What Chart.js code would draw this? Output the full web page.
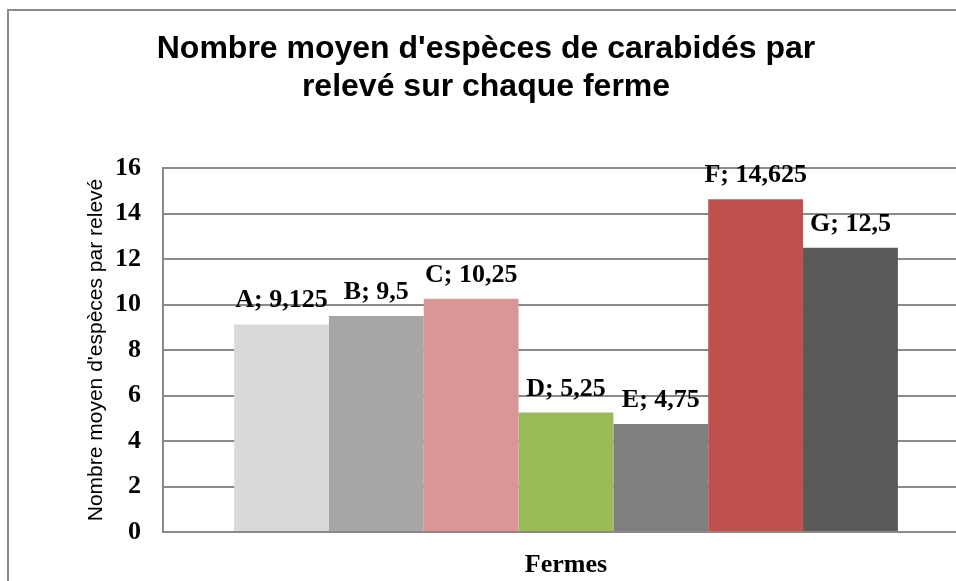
<!DOCTYPE html>
<html>
<head>
<meta charset="utf-8">
<script src="https://cdn.jsdelivr.net/npm/chart.js@4/dist/chart.umd.min.js"></script>
<style>
  html, body { margin: 0; padding: 0; background: #fff; overflow: hidden; }
  #wrap { position: relative; width: 956px; height: 581px; overflow: hidden; }
  #frame { position: absolute; left: 7px; top: 9px; width: 1100px; height: 700px;
           border: 2px solid #8a8a8a; box-sizing: border-box; }
  #chart { position: absolute; left: 0; top: 0; }
</style>
</head>
<body>
<div id="wrap">
  <div id="frame"></div>
  <canvas id="chart" width="975" height="581"></canvas>
</div>
<script>
// ── Data ─────────────────────────────────────────────────────
const farms   = ['A', 'B', 'C', 'D', 'E', 'F', 'G'];
const species = [9.125, 9.5, 10.25, 5.25, 4.75, 14.625, 12.5];
const colours = ['#d9d9d9', '#a6a6a6', '#d99694', '#9bbb59', '#7f7f7f', '#c0504d', '#595959'];

const TITLE   = ['Nombre moyen d\'espèces de carabidés par', 'relevé sur chaque ferme'];
const Y_TITLE = 'Nombre moyen d\'espèces par relevé';
const X_TITLE = 'Fermes';

const GREY = '#8a8a8a';

// "A; 9,125" above each bar
const barLabels = {
  id: 'barLabels',
  afterDatasetsDraw(chart) {
    const ctx = chart.ctx;
    ctx.save();
    ctx.font = 'bold 26px "Liberation Serif"';
    ctx.fillStyle = '#000';
    ctx.textAlign = 'center';
    ctx.textBaseline = 'alphabetic';
    chart.data.datasets.forEach((ds, i) => {
      const bar = chart.getDatasetMeta(i).data[0];
      const txt = `${ds.label}; ${String(ds.data[0]).replace('.', ',')}`;
      ctx.fillText(txt, bar.x, bar.y - 17);
    });
    ctx.restore();
  }
};

new Chart(document.getElementById('chart'), {
  type: 'bar',
  data: {
    labels: [''],
    datasets: farms.map((f, i) => ({
      label: f,
      data: [species[i]],
      backgroundColor: colours[i],
      borderWidth: 0,
    })),
  },
  options: {
    responsive: false,
    animation: false,
    devicePixelRatio: 1,
    categoryPercentage: 7 / 8.5,
    barPercentage: 1,
    layout: { padding: { left: 3, right: 6, top: 0, bottom: 0 } },
    plugins: {
      legend: { display: false },
      tooltip: { enabled: false },
      title: {
        display: true,
        text: TITLE,
        color: '#000',
        font: { family: '"Liberation Sans"', size: 32, weight: 'bold', lineHeight: 38 / 32 },
        padding: { top: 30, bottom: 62 },
      },
    },
    scales: {
      x: {
        grid: { display: false },
        border: { display: true, color: GREY, width: 2 },
        ticks: { display: false },
        title: {
          display: true,
          text: X_TITLE,
          color: '#000',
          font: { family: '"Liberation Serif"', size: 26, weight: 'bold', lineHeight: 1 },
          padding: { top: 0, bottom: 3 },
        },
        afterFit(scale) { scale.height = 49; },
      },
      y: {
        min: 0,
        max: 16,
        ticks: {
          stepSize: 2,
          padding: 22,
          color: '#000',
          font: { family: '"Liberation Serif"', size: 26, weight: 'bold' },
        },
        grid: { color: GREY, lineWidth: 2, drawTicks: false },
        border: { display: true, color: GREY, width: 2 },
        title: {
          display: true,
          text: Y_TITLE,
          color: '#000',
          font: { family: '"Liberation Sans"', size: 21, lineHeight: 1 },
          padding: { top: 83, bottom: 0 },
        },
        afterFit(scale) { scale.width = 160; },
      },
    },
  },
  plugins: [barLabels],
});
</script>
</body>
</html>
